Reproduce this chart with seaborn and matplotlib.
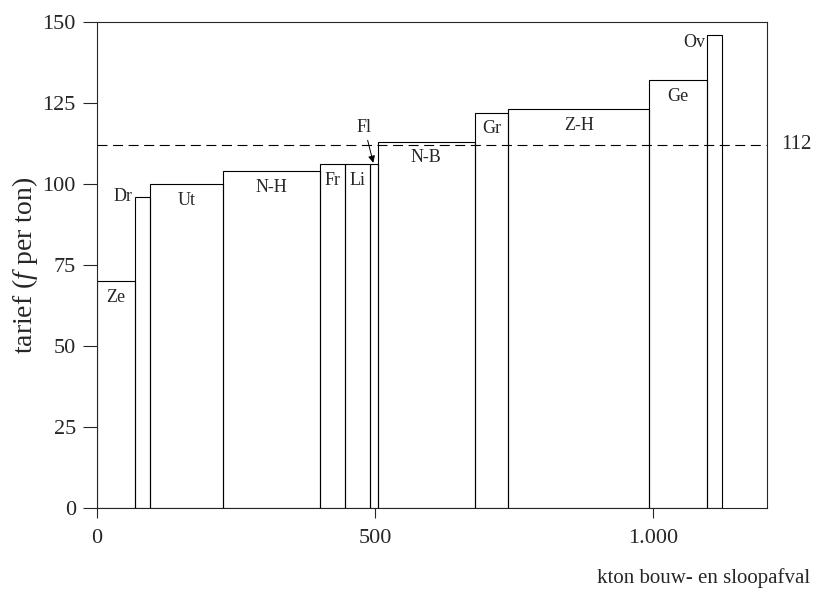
import numpy as np
import pandas as pd
import matplotlib
matplotlib.use("Agg")
import matplotlib.pyplot as plt
import seaborn as sns

# ---- data ----
regions = ["Ze", "Dr", "Ut", "N-H", "Fr", "Li", "Fl", "N-B", "Gr", "Z-H", "Ge", "Ov"]
edges = [0, 68, 95, 227, 402, 447, 491, 505, 679, 740, 993, 1096, 1124]
tarief = [70, 96, 100, 104, 106, 106, 106, 113, 122, 123, 132, 146]
average = 112
yticks = [0, 25, 50, 75, 100, 125, 150]
xticks = [0, 500, 1000]
xticklabels = ["0", "500", "1.000"]

df = pd.DataFrame({
    "region": regions,
    "left": edges[:-1],
    "right": edges[1:],
    "tarief": tarief,
})
df["mid"] = (df["left"] + df["right"]) / 2

sns.set_style("ticks")
plt.rcParams["font.family"] = ["Liberation Serif", "DejaVu Serif"]
plt.rcParams["mathtext.fontset"] = "custom"
plt.rcParams["mathtext.rm"] = "Liberation Serif"
plt.rcParams["mathtext.it"] = "Liberation Serif:italic"

fig = plt.figure(figsize=(8.13, 5.90), dpi=100)
ax = fig.add_axes([0.119, 0.139, 0.824, 0.824])

sns.histplot(data=df, x="mid", weights="tarief", bins=edges, fill=False,
             color="black", linewidth=0.8, ax=ax, element="bars")

ax.axhline(average, color="black", linewidth=0.8, dashes=(9, 5))
ax.text(1.022, average, str(average), transform=ax.get_yaxis_transform(),
        ha="left", va="center", fontsize=15)

# bar labels
fs = 13
for _, r in df.iterrows():
    name = r["region"]
    if name == "Dr":
        ax.text(r["left"] - 3, r["tarief"], name, ha="right", va="center", fontsize=fs)
    elif name == "Ov":
        ax.text(r["left"] - 3, r["tarief"] - 2.5, name, ha="right", va="center", fontsize=fs)
    elif name == "Fl":
        ax.annotate(name, xy=(r["mid"] - 1, r["tarief"] + 0.5),
                    xytext=(r["mid"] - 17, r["tarief"] + 11.5),
                    ha="center", va="center", fontsize=fs,
                    arrowprops=dict(arrowstyle="-|>", color="black", lw=0.7,
                                    mutation_scale=10, shrinkA=1, shrinkB=0))
    else:
        ax.text(r["mid"], r["tarief"] - 5, name, ha="center", va="center", fontsize=fs)

ax.set_xlim(0, 1204)
ax.set_ylim(0, 150)
ax.set_yticks(yticks)
ax.set_xticks(xticks)
ax.set_xticklabels(xticklabels)
ax.tick_params(axis="both", labelsize=16, width=0.8, direction="out")
ax.tick_params(axis="x", length=7, pad=8)
ax.tick_params(axis="y", length=10, pad=5)
for s in ax.spines.values():
    s.set_linewidth(0.8)
    s.set_visible(True)

ax.set_ylabel("tarief ($\\it{f}$ per ton)", fontsize=20, labelpad=2)
ax.set_xlabel("")
fig.text(0.996, 0.004, "kton bouw- en sloopafval", ha="right", va="bottom", fontsize=15)

fig.savefig("out.png", dpi=100)
